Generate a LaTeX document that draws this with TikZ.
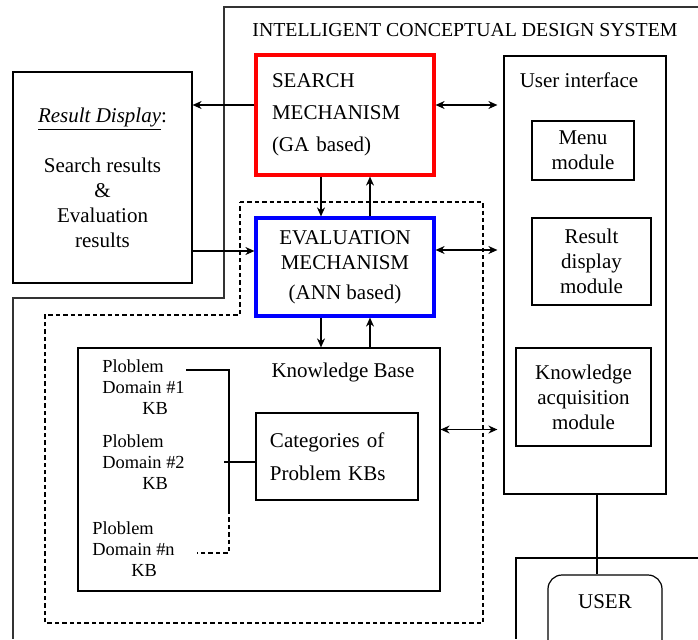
\documentclass[tikz,border=0pt]{standalone}
\usepackage{fontspec}
\setmainfont{Liberation Serif}
\usetikzlibrary{arrows.meta,calc}
\definecolor{mechRed}{HTML}{FF0000}
\definecolor{mechBlue}{HTML}{0000FF}
\definecolor{frameGray}{HTML}{333333}

\begin{document}
\begin{tikzpicture}[
  x=0.5pt, y=-0.5pt,
  >={Stealth[length=4.5pt,width=4pt]},
  every node/.style={font=\fontsize{10.5}{12.5}\selectfont},
  box/.style={draw, line width=0.6pt, inner sep=0pt, align=center},
  mech/.style={draw, line width=1.6pt, inner sep=0pt},
  pdtext/.style={font=\fontsize{9.2}{10.5}\selectfont, align=left, inner sep=0pt, anchor=west},
  link/.style={line width=0.6pt},
  frame dash/.style={link, dash pattern=on 2.2pt off 1.5pt},
]
\clip (0,0) rectangle (698,639);

% System frame
\draw[frameGray, line width=0.7pt] (698,7) -- (224,7) -- (224,298) -- (13,298) -- (13,639);
\node[font=\fontsize{9.9}{12}\selectfont] (title) at (465,30) {INTELLIGENT CONCEPTUAL DESIGN SYSTEM};

% Evaluation / knowledge frame (dashed)
\draw[frame dash] (240,202) -- (483,202) -- (483,623) -- (45,623)
  -- (45,315) -- (240,315) -- cycle;

% Result display
\node[box, fill=white, minimum width=89.5pt, minimum height=105.5pt] (disp) at (102.5,177.5)
  {\underline{\textit{Result Display}}:\\[12.5pt] Search results\\ \&\\ Evaluation\\ results};

% Mechanisms
\node[mech, draw=mechRed, minimum width=89pt, minimum height=60pt, text width=73pt,
  inner xsep=8pt, align=left] (search) at (345,115)
  {SEARCH\\[3.5pt] MECHANISM\\[3.5pt] (GA based)};
\node[mech, draw=mechBlue, minimum width=89pt, minimum height=49pt, align=center] (eval) at (345,267)
  {EVALUATION\\ MECHANISM\\[2.5pt] (ANN based)};

% Knowledge base
\node[box, minimum width=181pt, minimum height=121.5pt] (kb) at (259,469.5) {};
\node (kbtitle) at (343,372) {Knowledge Base};
\node[box, minimum width=81pt, minimum height=43.5pt, text width=67pt, inner xsep=7pt, align=left]
  (cat) at (337,456.5) {Categories of\\[4pt] Problem KBs};
\node[pdtext] (pd1) at (102,387) {Ploblem\\ Domain \#1\\ \hspace*{20pt}KB};
\node[pdtext] (pd2) at (102,462) {Ploblem\\ Domain \#2\\ \hspace*{20pt}KB};
\node[pdtext] (pdn) at (92,549) {Ploblem\\ Domain \#n\\ \hspace*{19.5pt}KB};

% Bracket joining the problem domains
\coordinate (brtop) at (229,370);
\coordinate (brmid) at (229,510);
\coordinate (brbot) at (229,553);
\coordinate (pd1r) at (186,370);
\coordinate (pdnr) at (197,553);
\coordinate (pd2r) at (224,462);
\draw[link] (pd1r) -- (brtop) -- (brmid);
\draw[frame dash] (brmid) -- (brbot) -- (pdnr);
\draw[link] (pd2r) -- (pd2r -| cat.west);

% User interface
\node[box, minimum width=81pt, minimum height=219pt] (ui) at (585,275) {};
\node (uititle) at (579,80) {User interface};
\node[box, minimum width=51pt, minimum height=29.5pt] (menu) at (583,150.5) {Menu\\ module};
\node[box, minimum width=59.5pt, minimum height=43.5pt] (rdm) at (591.5,261.5) {Result\\ display\\ module};
\node[box, minimum width=67.5pt, minimum height=49pt] (kam) at (583.5,397) {Knowledge\\ acquisition\\ module};

% User
\draw[link] (698,558) -- (516,558) -- (516,639);
\node[box, rounded corners=7pt, minimum width=57pt, minimum height=57.5pt] (userbox) at (605,632.5) {};
\node (usertxt) at (605,602) {USER};
\coordinate (uitap) at (597,494);
\draw[link] (uitap) -- (uitap |- userbox.north);

% Arrows
\draw[link, ->] ([yshift=5pt]search.west) -- ([yshift=5pt]search.west -| disp.east);
\draw[link, <->, shorten >=3pt] ([yshift=5pt]search.east) -- ([yshift=5pt]search.east -| ui.west);
\draw[link, ->] ([yshift=8pt]disp.east |- eval.west) -- ([yshift=8pt]eval.west);
\draw[link, <->, shorten >=3pt] ([yshift=8.5pt]eval.east) -- ([yshift=8.5pt]eval.east -| ui.west);
\draw[link, ->] ([xshift=-12pt]search.south) -- ([xshift=-12pt]eval.north);
\draw[link, ->] ([xshift=12.5pt]eval.north) -- ([xshift=12.5pt]search.south);
\draw[link, ->] ([xshift=-12pt]eval.south) -- ([xshift=-12pt]eval.south |- kb.north);
\draw[link, ->] ([xshift=12.5pt]eval.south |- kb.north) -- ([xshift=12.5pt]eval.south);
\draw[link, <->, shorten >=3pt] ([yshift=20pt]kb.east) -- ([yshift=20pt]kb.east -| ui.west);
\end{tikzpicture}
\end{document}
